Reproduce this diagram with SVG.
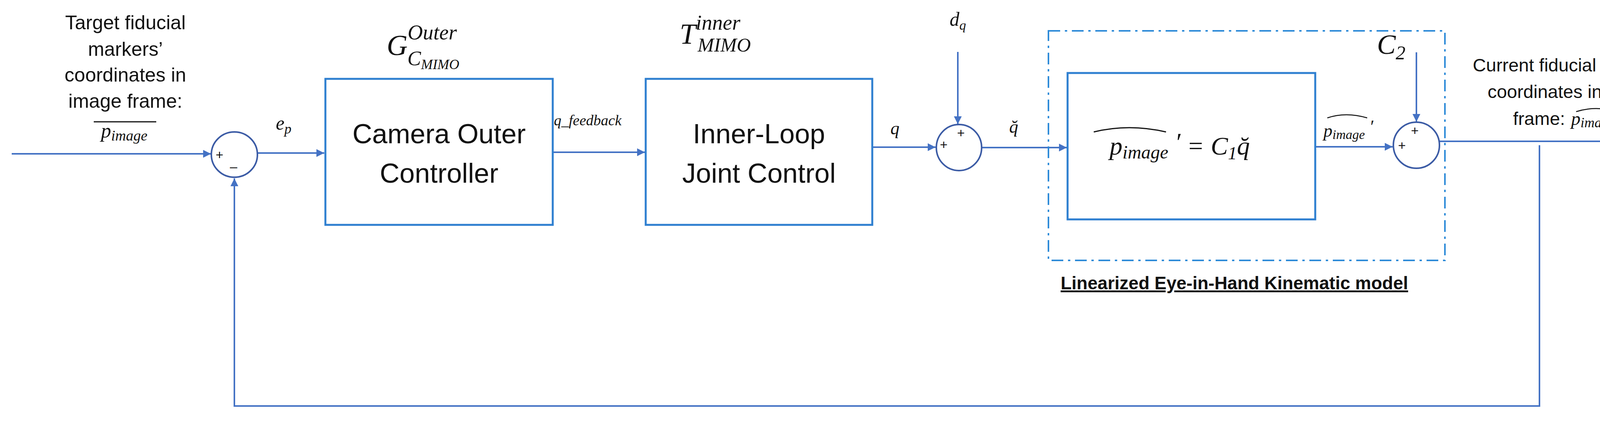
<svg xmlns="http://www.w3.org/2000/svg" width="4332" height="1081" viewBox="0 0 4332 1081">
<style>
.ln{stroke:#4472C4;stroke-width:4;fill:none}
.bx{stroke:#2E7FD0;stroke-width:5;fill:#fff}
.sum{stroke:#3B5BA5;stroke-width:4;fill:#fff}
.t{font-family:"Liberation Sans",Arial,sans-serif;fill:#111;text-anchor:middle}
.m{font-family:"Liberation Serif","DejaVu Serif",serif;font-style:italic;fill:#111}
.pm{font-family:"Liberation Sans",Arial,sans-serif;font-size:34px;fill:#111;text-anchor:middle}
</style>
<defs>
<marker id="ar" viewBox="0 0 10 10" refX="10" refY="5" markerWidth="5" markerHeight="5" markerUnits="strokeWidth" orient="auto"><path d="M0,0L10,5L0,10z" fill="#4472C4"/></marker>
</defs>
<rect width="4332" height="1081" fill="#fff"/>
<g id="connectors">
<path class="ln" d="M30,394H540" marker-end="url(#ar)"/>
<path class="ln" d="M659,392H830" marker-end="url(#ar)"/>
<path class="ln" d="M1415,390H1651" marker-end="url(#ar)"/>
<path class="ln" d="M2233,377H2395" marker-end="url(#ar)"/>
<path class="ln" d="M2452,133V318" marker-end="url(#ar)"/>
<path class="ln" d="M2513,378H2731" marker-end="url(#ar)"/>
<path class="ln" d="M3367,376H3565" marker-end="url(#ar)"/>
<path class="ln" d="M3626,134V312" marker-end="url(#ar)"/>
<path class="ln" d="M3685,362H4276" marker-end="url(#ar)"/>
<path class="ln" d="M3941,372V1040H600V457" marker-end="url(#ar)"/>
</g>
<g id="kinematic-model">
<rect x="2684" y="79" width="1015" height="588" fill="none" stroke="#2E8BD8" stroke-width="4" stroke-dasharray="30,12,6,12"/>
<text x="3160" y="741" class="t" font-size="46" font-weight="bold" text-decoration="underline">Linearized Eye-in-Hand Kinematic model</text>
</g>
<g id="target-label">
<text class="t" font-size="50"><tspan x="321" y="75">Target fiducial</tspan><tspan x="321" y="143">markers’</tspan><tspan x="321" y="209">coordinates in</tspan><tspan x="321" y="276">image frame:</tspan></text>
<line x1="240" y1="312" x2="400" y2="312" stroke="#111" stroke-width="3"/>
<text x="318" y="352" class="m" font-size="52" text-anchor="middle">p<tspan font-size="38" dy="8">image</tspan></text>
</g>
<g id="sum1">
<ellipse cx="600" cy="396" rx="59" ry="58" class="sum"/>
<text x="562" y="408" class="pm">+</text>
<text x="598" y="438" class="pm">–</text>
<text x="726" y="332" class="m" font-size="50" text-anchor="middle">e<tspan font-size="36" dy="10">p</tspan></text>
</g>
<g id="outer-controller">
<rect x="833" y="202" width="582" height="374" class="bx"/>
<text class="t" font-size="70"><tspan x="1124" y="367">Camera Outer</tspan><tspan x="1124" y="468">Controller</tspan></text>
<text x="990" y="141" class="m" font-size="74">G<tspan font-size="54" dy="-40">Outer</tspan><tspan x="1043" font-size="52" dy="66">C</tspan><tspan font-size="36" dy="10">MIMO</tspan></text>
<text x="1418" y="321" class="m" font-size="38">q_feedback</text>
</g>
<g id="inner-loop">
<rect x="1653" y="202" width="580" height="374" class="bx"/>
<text class="t" font-size="70"><tspan x="1943" y="367">Inner-Loop</tspan><tspan x="1943" y="468">Joint Control</tspan></text>
<text x="1740" y="112" class="m" font-size="74">T<tspan font-size="54" dy="-36">inner</tspan><tspan x="1786" font-size="50" dy="56">MIMO</tspan></text>
<text x="2291" y="344" class="m" font-size="46" text-anchor="middle">q</text>
</g>
<g id="sum2">
<ellipse cx="2455" cy="378" rx="58" ry="59" class="sum"/>
<text x="2460" y="352" class="pm">+</text>
<text x="2416" y="382" class="pm">+</text>
<text x="2452" y="66" class="m" font-size="50" text-anchor="middle">d<tspan font-size="34" dy="10">q</tspan></text>
<text x="2595" y="340" class="m" font-size="46" text-anchor="middle">q̆</text>
</g>
<g id="kinematics-block">
<rect x="2733" y="187" width="634" height="375" class="bx" stroke="#4472C4"/>
<text x="3020" y="396" class="m" font-size="66" text-anchor="middle">p<tspan font-size="48" dy="10">image</tspan><tspan dy="-20"> ′</tspan><tspan dy="10"> = C</tspan><tspan font-size="46" dy="12">1</tspan><tspan dy="-12">q̆</tspan></text>
<path d="M2800,338Q2890,316 2985,338" stroke="#111" stroke-width="3" fill="none"/>
<text x="3388" y="350" class="m" font-size="46">p<tspan font-size="34" dy="6">image</tspan><tspan dy="-16"> ′</tspan></text>
<path d="M3398,302Q3445,286 3500,302" stroke="#111" stroke-width="2.5" fill="none"/>
</g>
<g id="sum3">
<ellipse cx="3626" cy="372" rx="59" ry="59" class="sum"/>
<text x="3622" y="346" class="pm">+</text>
<text x="3589" y="384" class="pm">+</text>
<text x="3525" y="138" class="m" font-size="72">C<tspan font-size="50" dy="14">2</tspan></text>
</g>
<g id="current-label">
<text class="t" font-size="47"><tspan x="4025" y="183">Current fiducial markers’</tspan><tspan x="4025" y="251">coordinates in image</tspan><tspan x="3940" y="320">frame: </tspan></text>
<text x="4022" y="320" class="m" font-size="48">p<tspan font-size="36" dy="6">image</tspan></text>
<path d="M4035,286Q4085,270 4140,286" stroke="#111" stroke-width="2.5" fill="none"/>
</g>
</svg>
